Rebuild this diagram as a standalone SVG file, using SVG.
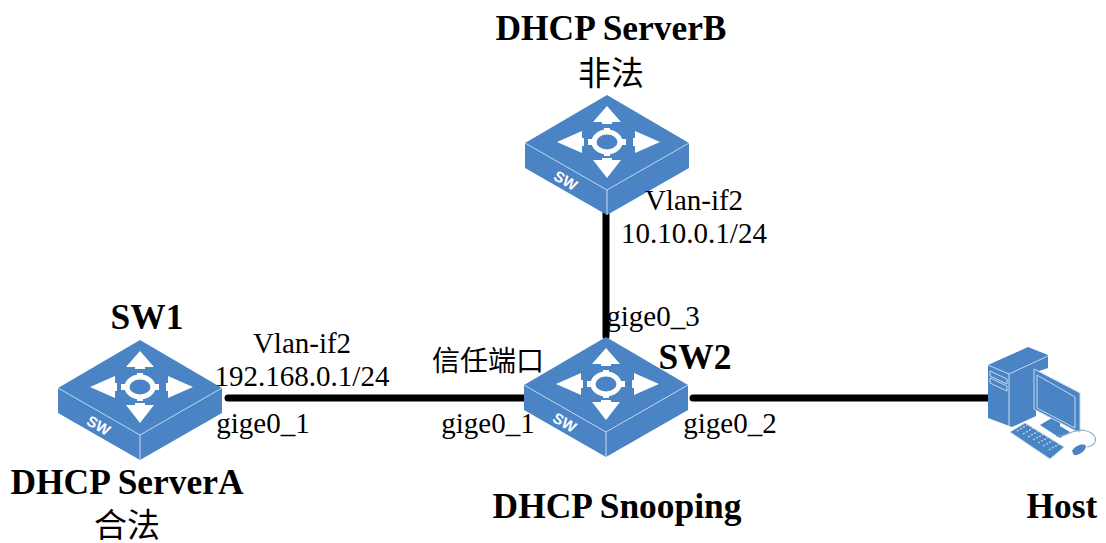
<svg xmlns="http://www.w3.org/2000/svg" width="1106" height="543" viewBox="0 0 1106 543">
<style>
text{font-family:"Liberation Serif","Noto Sans CJK SC",serif;fill:#000;text-anchor:middle}
.b{font-weight:bold;font-size:35.4px}
.z{font-weight:normal;font-size:33px}
.n{font-size:29px}
.y{font-size:28px}
.c{stroke:#000;stroke-width:7px;stroke-linecap:round;fill:none}
.top{fill:#4a84c4}
.e{fill:none;stroke:#c5d8ee;stroke-width:1}
.w{fill:#fff}
.sw{font-family:"Liberation Sans",sans-serif;font-weight:bold;font-size:15px;fill:#fff}
.k{fill:none;stroke:#c5d8ee;stroke-width:1.2}
</style>
<defs>
<g id="sw">
<path class="top" d="M0-48L82 0V25L0 72L-82 25V0Z"/>
<path class="e" d="M-82 0L0 47L82 0M0 47V72"/>
<path class="w" d="M0-37L14-21H5V-19H-5V-21H-14ZM0 35L14 17H5V15H-5V17H-14ZM-50-1L-25-12V-5H-23V3H-25V10ZM53-1L28-12V-5H26V3H28V10Z"/>
<ellipse cx="0" cy="-1" rx="13" ry="10" fill="none" stroke="#fff" stroke-width="5"/>
<path class="w" d="M-3-15H3V-11H-3ZM-3 9H3V13H-3ZM-19-4H-14V2H-19ZM14-4H19V2H14Z"/>
<text class="sw" transform="translate(-44 42) rotate(30)">SW</text>
</g>
</defs>
<g id="connectors">
<path class="c" d="M606 212V336"/>
<path class="c" d="M228 398H524"/>
<path class="c" d="M693 398H988"/>
</g>
<g id="server-b"><use href="#sw" x="607" y="143"/><text class="b" x="611" y="40">DHCP ServerB</text><text class="z" x="611" y="85">非法</text></g>
<g id="sw1"><use href="#sw" x="140" y="388"/><text class="b" x="147" y="329">SW1</text><text class="b" x="127" y="494">DHCP ServerA</text><text class="z" x="127" y="537">合法</text></g>
<g id="sw2"><use href="#sw" x="606" y="385"/><text class="b" x="695" y="369">SW2</text><text class="b" x="617" y="518">DHCP Snooping</text></g>
<g id="host">
<path fill="#4a84c4" d="M988 365L1028 347L1048 355V368L1036 372V416L1012 427L988 418Z"/>
<path fill="none" stroke="#c5d8ee" d="M988 365L1009 374L1048 356M1009 374V426M990 371L1007 379V384L990 376ZM990 378L1007 386V391L990 383Z"/>
<path fill="#4a84c4" d="M1040 425L1052 418V413L1060 417V426L1070 432L1060 438Z"/>
<path fill="#4a84c4" stroke="#c5d8ee" d="M1034 369L1080 393V432L1076 431L1034 409Z"/>
<path fill="#4a84c4" stroke="#c5d8ee" d="M1037 375L1075 397V428L1037 408Z"/>
<path fill="#4a84c4" stroke="#c5d8ee" d="M1010 432L1025 423L1064 447L1050 459Z"/>
<path class="k" stroke-dasharray="2 1.500" d="M1017 431L1027 425M1023 434L1033 428M1028 437L1039 431M1033 440L1044 434M1038 443L1049 437M1043 446L1054 440M1049 450L1059 444"/>
<path fill="none" stroke="#8fa9c6" stroke-width="1.200" d="M1056 436C1065 438 1070 430 1082 430C1098 432 1100 445 1087 447"/>
<path fill="#4a84c4" d="M1072 451C1075 445 1084 443 1086 446C1086 451 1078 456 1074 455Z"/>
<text class="b" x="1062" y="518">Host</text>
</g>
<g id="labels">
<text class="n" x="302" y="353">Vlan-if2</text>
<text class="n" x="302" y="386">192.168.0.1/24</text>
<text class="n" x="263" y="433">gige0_1</text>
<text class="y" x="488" y="371">信任端口</text>
<text class="n" x="488" y="433">gige0_1</text>
<text class="n" x="730" y="433">gige0_2</text>
<text class="n" x="653" y="326">gige0_3</text>
<text class="n" x="694" y="210">Vlan-if2</text>
<text class="n" x="694" y="243">10.10.0.1/24</text>
</g>
</svg>
